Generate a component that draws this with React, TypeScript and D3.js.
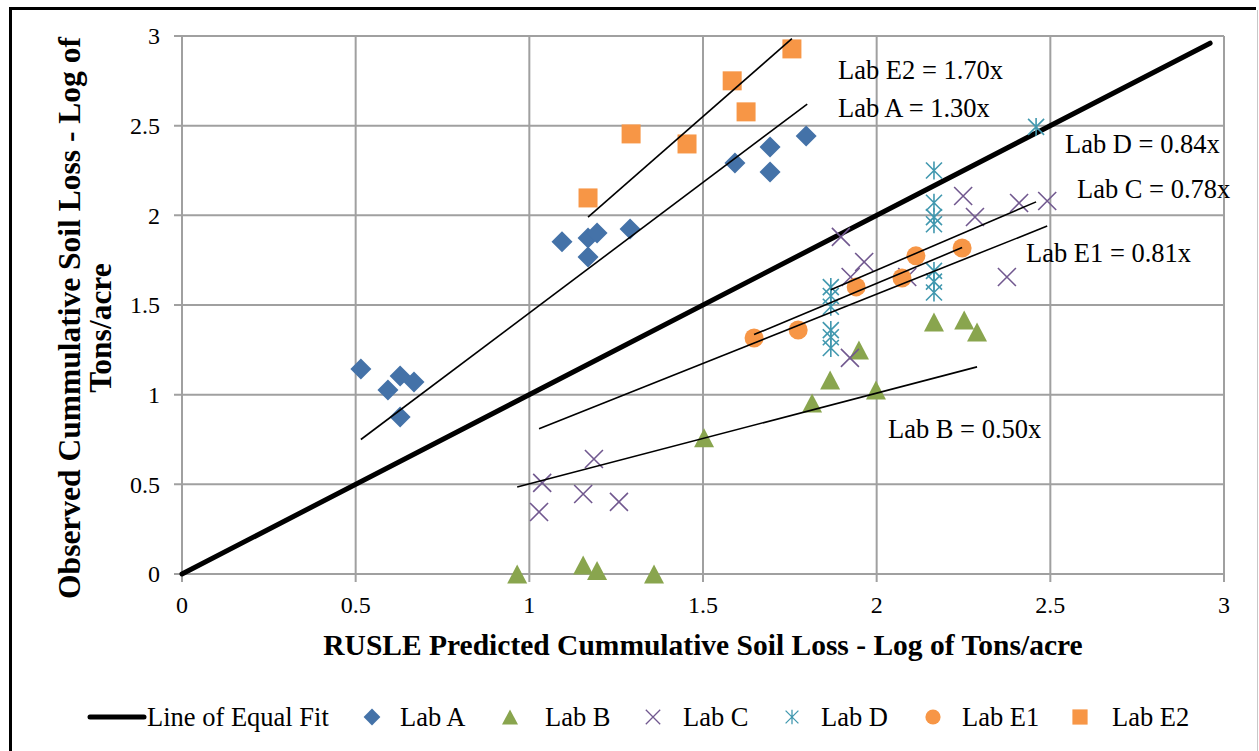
import React from "react";
import * as d3 from "d3";

// observed vs predicted, log of tons/acre
const labA: [number, number][] = [
  [0.515, 1.143], [0.593, 1.026], [0.628, 1.104], [0.668, 1.071], [0.628, 0.876],
  [1.094, 1.852], [1.169, 1.874], [1.169, 1.768], [1.195, 1.902], [1.29, 1.924],
  [1.592, 2.292], [1.693, 2.381], [1.693, 2.242], [1.797, 2.443],
];
const labB: [number, number][] = [
  [0.965, 0.0], [1.155, 0.05], [1.195, 0.02], [1.359, 0.0], [1.503, 0.76],
  [1.814, 0.954], [1.866, 1.082], [1.949, 1.249], [1.998, 1.026],
  [2.165, 1.405], [2.252, 1.417], [2.289, 1.35],
];
const labC: [number, number][] = [
  [1.028, 0.346], [1.037, 0.508], [1.155, 0.446], [1.186, 0.641], [1.258, 0.402],
  [1.897, 1.88], [1.925, 1.656], [1.964, 1.74], [1.923, 1.205], [2.088, 1.656],
  [2.249, 2.108], [2.283, 1.991], [2.41, 2.069], [2.491, 2.08], [2.375, 1.656],
];
const labD: [number, number][] = [
  [1.868, 1.6], [1.868, 1.55], [1.868, 1.49], [1.868, 1.36], [1.868, 1.32], [1.868, 1.26],
  [2.165, 2.25], [2.165, 2.07], [2.165, 1.99], [2.165, 1.95], [2.165, 1.69], [2.165, 1.63],
  [2.165, 1.57], [2.459, 2.493],
];
const labE1: [number, number][] = [
  [1.647, 1.316], [1.774, 1.361], [1.941, 1.601], [2.073, 1.651], [2.113, 1.774], [2.246, 1.818],
];
const labE2: [number, number][] = [
  [1.169, 2.097], [1.293, 2.454], [1.454, 2.398], [1.584, 2.75], [1.624, 2.577], [1.756, 2.928],
];

// trendline ends as drawn [x0, y0, x1, y1]
const equalFit = [0, 0, 2.96, 2.96];
const trendE2 = [1.169, 1.99, 1.756, 2.985];
const trendA = [0.515, 0.75, 1.8, 2.62];
const trendD = [1.868, 1.585, 2.459, 2.075];
const trendC = [1.028, 0.81, 2.491, 1.94];
const trendE1 = [1.647, 1.335, 2.246, 1.82];
const trendB = [0.965, 0.485, 2.289, 1.155];

const trendLabels = [
  "Lab E2 = 1.70x", "Lab A = 1.30x", "Lab D = 0.84x",
  "Lab C = 0.78x", "Lab E1 = 0.81x", "Lab B = 0.50x",
];

const legendNames = ["Line of Equal Fit", "Lab A", "Lab B", "Lab C", "Lab D", "Lab E1", "Lab E2"];

const BLUE = "#4472a8";
const GREEN = "#89a54e";
const PURPLE = "#71588f";
const TEAL = "#4198af";
const ORANGE = "#f79646";
const GRID = "#a0a0a0";
const FONT = "'Liberation Serif', 'Times New Roman', serif";

const Marker = ({ kind, cx, cy, s = 1 }: { kind: string; cx: number; cy: number; s?: number }) => {
  const t = `translate(${cx},${cy}) scale(${s})`;
  if (kind === "diamond")
    return <path transform={t} d="M0,-10.5L10.5,0L0,10.5L-10.5,0Z" fill={BLUE} />;
  if (kind === "triangle")
    return <path transform={t} d="M0,-9.5L10,9.5L-10,9.5Z" fill={GREEN} />;
  if (kind === "x")
    return <path transform={t} d="M-9,-9L9,9M-9,9L9,-9" stroke={PURPLE} strokeWidth={1.6} fill="none" />;
  if (kind === "star")
    return <path transform={t} d="M-8,-8L8,8M-8,8L8,-8M0,-9L0,9" stroke={TEAL} strokeWidth={1.6} fill="none" />;
  if (kind === "circle") return <circle transform={t} r={9.5} fill={ORANGE} />;
  return <rect transform={t} x={-9.5} y={-9.5} width={19} height={19} fill={ORANGE} />;
};

export default function App() {
  const W = 1259;
  const H = 751;
  const x = d3.scaleLinear().domain([0, 3]).range([182, 1224]);
  const y = d3.scaleLinear().domain([0, 3]).range([574, 36]);
  const ticks = x.ticks(6);

  const series: { kind: string; pts: [number, number][] }[] = [
    { kind: "diamond", pts: labA },
    { kind: "triangle", pts: labB },
    { kind: "x", pts: labC },
    { kind: "star", pts: labD },
    { kind: "circle", pts: labE1 },
    { kind: "square", pts: labE2 },
  ];
  const trends = [trendE2, trendA, trendD, trendC, trendE1, trendB];
  const labelPos = [
    [838, 79], [838, 117], [1065, 153], [1077, 198], [1026, 262], [888, 438],
  ];
  const line = d3.line<number[]>().x((d) => x(d[0])).y((d) => y(d[1]));

  const legendX = [88, 372, 510, 653, 792, 933, 1080];
  const legendTextX = [147, 400, 545, 683, 821, 962, 1112];
  const legendY = 717;

  return (
    <svg width={W} height={H} style={{ position: "fixed", left: 0, top: 0, background: "#fff" }} fontFamily={FONT}>
      <rect x={0} y={0} width={W} height={H} fill="#fff" />
      {/* frame */}
      <line x1={10.5} y1={7} x2={10.5} y2={H} stroke="#000" strokeWidth={3} />
      <line x1={9} y1={8.5} x2={1256} y2={8.5} stroke="#000" strokeWidth={3} />
      <line x1={1257.5} y1={10} x2={1257.5} y2={H} stroke="#c8c8c8" strokeWidth={1} />

      {/* grid */}
      {ticks.map((t) => (
        <g key={"g" + t}>
          <line x1={x(t)} x2={x(t)} y1={y(3)} y2={y(0) + 8} stroke={GRID} strokeWidth={2} />
          <line x1={x(0) - 8} x2={x(3)} y1={y(t)} y2={y(t)} stroke={GRID} strokeWidth={2} />
          <text x={160} y={y(t)} dy="0.35em" textAnchor="end" fontSize={24}>
            {String(t)}
          </text>
          <text x={x(t)} y={613} textAnchor="middle" fontSize={24}>
            {String(t)}
          </text>
        </g>
      ))}

      {/* line of equal fit */}
      <path
        d={line([[equalFit[0], equalFit[1]], [equalFit[2], equalFit[3]]]) || ""}
        stroke="#000"
        strokeWidth={5}
        strokeLinecap="round"
        fill="none"
      />

      {series.map((s) =>
        s.pts.map((p, i) => <Marker key={s.kind + i} kind={s.kind} cx={x(p[0])} cy={y(p[1])} />)
      )}

      {trends.map((t, i) => (
        <path
          key={"t" + i}
          d={line([[t[0], t[1]], [t[2], t[3]]]) || ""}
          stroke="#000"
          strokeWidth={1.6}
          fill="none"
        />
      ))}

      {trendLabels.map((l, i) => (
        <text key={l} x={labelPos[i][0]} y={labelPos[i][1]} fontSize={26.5}>
          {l}
        </text>
      ))}

      {/* axis titles */}
      <text x={703} y={655} textAnchor="middle" fontSize={29.5} fontWeight="bold">
        RUSLE Predicted Cummulative Soil Loss - Log of Tons/acre
      </text>
      <g transform="translate(80,318) rotate(-90)">
        <text x={0} y={0} textAnchor="middle" fontSize={31.5} fontWeight="bold">
          Observed Cummulative Soil Loss - Log of
        </text>
        <text x={-10} y={31} textAnchor="middle" fontSize={31.5} fontWeight="bold">
          Tons/acre
        </text>
      </g>

      {/* legend */}
      <line x1={legendX[0] + 2} x2={legendX[0] + 56} y1={legendY} y2={legendY} stroke="#000" strokeWidth={5} strokeLinecap="round" />
      {series.map((s, i) => (
        <Marker key={"lm" + i} kind={s.kind} cx={legendX[i + 1]} cy={legendY} s={0.8} />
      ))}
      {legendNames.map((n, i) => (
        <text key={n} x={legendTextX[i]} y={legendY} dy="0.35em" fontSize={26.5}>
          {n}
        </text>
      ))}
    </svg>
  );
}
